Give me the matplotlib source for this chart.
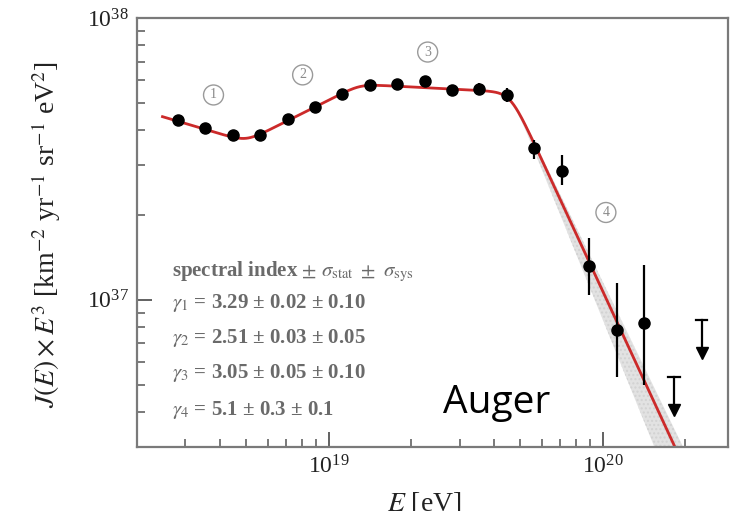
import numpy as np
import matplotlib.pyplot as plt
from matplotlib.ticker import LogLocator, NullFormatter

plt.rcParams['font.family'] = ['Liberation Serif', 'DejaVu Serif']
plt.rcParams['mathtext.fontset'] = 'stix'

# Auger spectrum, E^3 J(E)
log_energy = [18.45, 18.55, 18.65, 18.75, 18.85, 18.95, 19.05, 19.15, 19.25,
              19.35, 19.45, 19.55, 19.65, 19.75, 19.85, 19.95, 20.05, 20.15]
flux = [4.35e37, 4.07e37, 3.85e37, 3.85e37, 4.38e37, 4.83e37, 5.37e37, 5.78e37,
        5.83e37, 5.98e37, 5.56e37, 5.60e37, 5.33e37, 3.46e37, 2.87e37, 1.32e37,
        7.83e36, 8.29e36]
flux_lo = [4.25e37, 3.98e37, 3.76e37, 3.75e37, 4.27e37, 4.70e37, 5.22e37, 5.60e37,
           5.63e37, 5.75e37, 5.32e37, 5.32e37, 5.02e37, 3.17e37, 2.56e37, 1.04e37,
           5.3e36, 5.0e36]
flux_hi = [4.45e37, 4.16e37, 3.94e37, 3.95e37, 4.49e37, 4.96e37, 5.52e37, 5.96e37,
           6.03e37, 6.21e37, 5.80e37, 5.88e37, 5.64e37, 3.69e37, 3.27e37, 1.66e37,
           1.15e37, 1.33e37]

# upper limits (top of the bar)
ul_log_energy = [20.26, 20.36]
ul_flux = [5.33e36, 8.49e36]

# fit parameters
gammas = [3.29, 2.51, 3.05, 5.1]
gamma_labels = ["3.29 ± 0.02 ± 0.10", "2.51 ± 0.03 ± 0.05",
                "3.05 ± 0.05 ± 0.10", "5.1 ± 0.3 ± 0.1"]
breaks = [5.0e18, 1.3e19, 4.6e19]
omega = 0.05
fit_ref_energy = 10**18.45
fit_ref_flux = 4.3e37

# circled segment numbers: (label, log E, E^3 J)
segments = [("1", 18.58, 5.33e37), ("2", 18.905, 6.28e37),
            ("3", 19.361, 7.57e37), ("4", 20.011, 2.04e37)]


def e3j(E, g):
    val = E**(3 - g[0])
    for i in range(3):
        val = val * (1 + (E / breaks[i])**(1 / omega))**((g[i] - g[i + 1]) * omega)
    return val


def fit_curve(E, g):
    return e3j(E, g) * fit_ref_flux / e3j(fit_ref_energy, gammas)


energy = 10**np.array(log_energy)
flux = np.array(flux)
ul_energy = 10**np.array(ul_log_energy)
ul_flux = np.array(ul_flux)

fig = plt.figure(figsize=(7.41, 5.11), dpi=100)
ax = fig.add_axes([0.1849, 0.1252, 0.7976, 0.8396])

E = np.logspace(18.394, 20.45, 500)
band_lo = fit_curve(E, gammas[:3] + [gammas[3] + 0.3])
band_hi = fit_curve(E, gammas[:3] + [gammas[3] - 0.1])
ax.fill_between(E, band_lo, band_hi, color='#e2e2e2', hatch='....',
                edgecolor='#d2d2d2', linewidth=0, zorder=1)
ax.plot(E, fit_curve(E, gammas), color='#cc2a2a', lw=2.0, zorder=2)

yerr = [flux - np.array(flux_lo), np.array(flux_hi) - flux]
ax.errorbar(energy, flux, yerr=yerr, fmt='o', color='black', ms=8,
            elinewidth=1.6, capsize=0, zorder=3)

for x, y in zip(ul_energy, ul_flux):
    tip = y * 0.72
    ax.plot([x, x], [y, tip * 1.05], color='black', lw=1.6, zorder=3)
    ax.plot([x / 1.05, x * 1.05], [y, y], color='black', lw=1.6, zorder=3)
    ax.plot([x], [tip * 1.06], marker='v', color='black', ms=8, zorder=3)

ax.set_xscale('log')
ax.set_yscale('log')
ax.set_xlim(2.0e18, 2.86e20)
ax.set_ylim(3.0e36, 1e38)

ax.xaxis.set_major_locator(LogLocator(base=10))
ax.xaxis.set_minor_locator(LogLocator(base=10, subs=np.arange(2, 10)))
ax.xaxis.set_minor_formatter(NullFormatter())
ax.yaxis.set_major_locator(LogLocator(base=10))
ax.yaxis.set_minor_locator(LogLocator(base=10, subs=np.arange(2, 10)))
ax.yaxis.set_minor_formatter(NullFormatter())

ax.tick_params(which='both', direction='in', top=False, right=False,
               color='#555555', labelsize=17, labelcolor='#222222')
ax.tick_params(which='major', length=11, width=1.3, pad=6)
ax.tick_params(which='minor', length=6, width=1.1)
for s in ax.spines.values():
    s.set_color('#7a7a7a')
    s.set_linewidth(1.6)

fig.text(0.063, 0.54, r"$J(E)\times E^3$ [km$^{-2}$ yr$^{-1}$ sr$^{-1}$ eV$^{2}$]",
         rotation=90, ha='center', va='center', fontsize=20, color='#222222')
fig.text(0.573, 1 - 490 / 511, r"$E$ [eV]", ha='center', va='top',
         fontsize=20, color='#222222')

for lab, le, yv in segments:
    ax.text(10**le, yv, lab, ha='center', va='center', fontsize=10, color='#8a8a8a',
            bbox=dict(boxstyle='circle,pad=0.25', fc='white', ec='#9a9a9a', lw=1.0))

grey = '#6a6a6a'
ax.text(0.06, 1 - (272 - 18) / 429,
        r"spectral index $\pm\ \sigma_{\rm stat}\ \pm\ \sigma_{\rm sys}$",
        transform=ax.transAxes, fontsize=15, fontweight='bold', color=grey,
        va='center')
for i, g in enumerate(gamma_labels):
    ypix = [303, 338, 373, 410][i]
    ax.text(0.06, 1 - (ypix - 18) / 429, r"$\gamma_{%d}$ = " % (i + 1) + g,
            transform=ax.transAxes, fontsize=15, fontweight='bold', color=grey,
            va='center')

fig.text(443 / 741, 1 - 413 / 511, "Auger", fontsize=28, family='Open Sans',
         color='black', ha='left', va='baseline')

fig.savefig('out.png', dpi=100)
